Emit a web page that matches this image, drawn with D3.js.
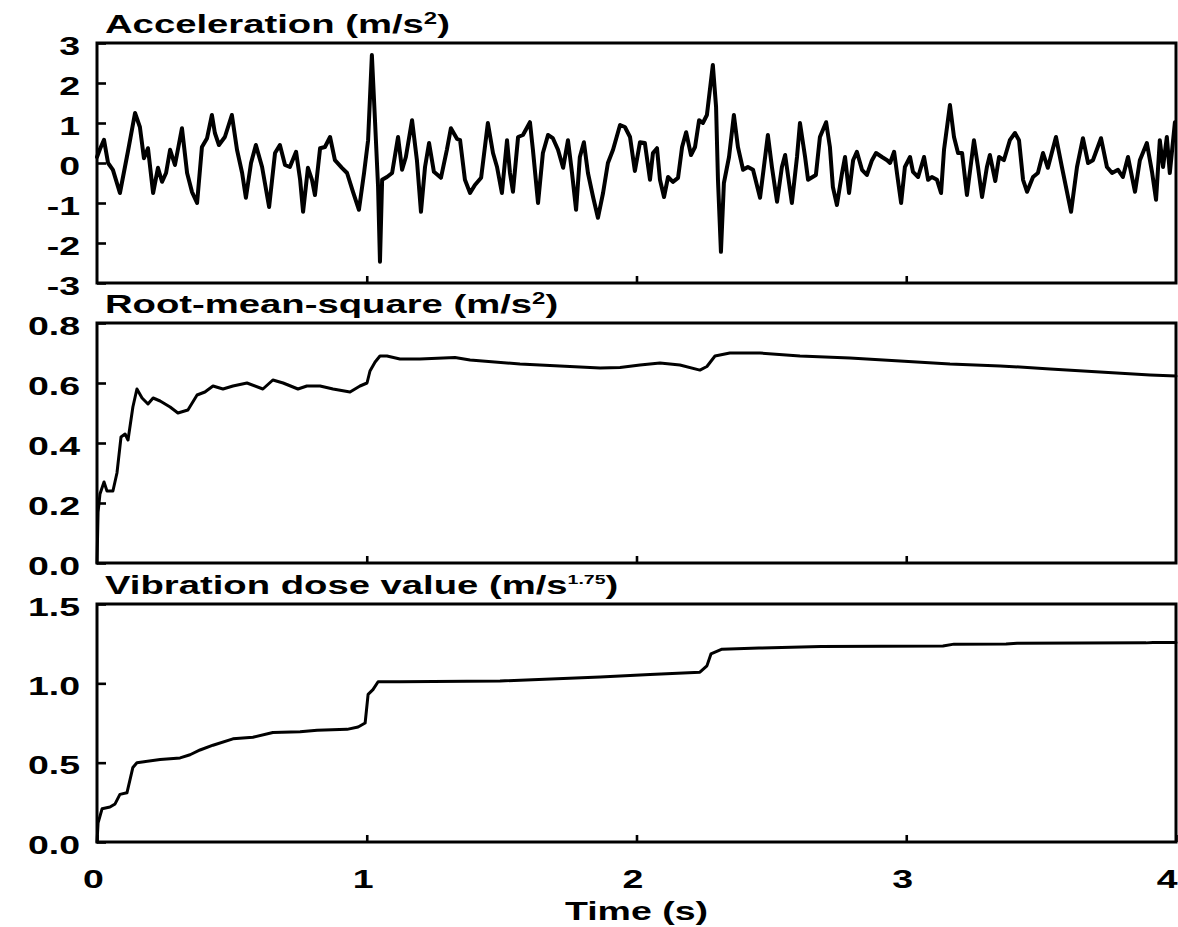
<!DOCTYPE html>
<html>
<head>
<meta charset="utf-8">
<script src="https://cdn.jsdelivr.net/npm/d3@7"></script>
<style>
  html, body { margin: 0; padding: 0; background: #fff; }
  svg { display: block; }
  text { font-family: "Liberation Sans", Arial, Helvetica, sans-serif; font-weight: bold; fill: #000; }
</style>
</head>
<body>
<svg id="chart" width="1178" height="927"></svg>
<script>
// ---- data -------------------------------------------------------------
const timeTicks = [0, 1, 2, 3, 4];
const accTicks = [-3, -2, -1, 0, 1, 2, 3];
const rmsTicks = [0.0, 0.2, 0.4, 0.6, 0.8];
const vdvTicks = [0.0, 0.5, 1.0, 1.5];

// acceleration signal (s, m/s²)
const accTime = [0, 0.011, 0.026, 0.041, 0.059, 0.085, 0.115, 0.141, 0.159, 0.174, 0.189, 0.208, 0.226, 0.241, 0.256, 0.271, 0.289, 0.315, 0.334, 0.352, 0.371, 0.389, 0.408, 0.426, 0.437, 0.452, 0.474, 0.500, 0.519, 0.538, 0.552, 0.571, 0.589, 0.612, 0.638, 0.660, 0.678, 0.697, 0.715, 0.738, 0.753, 0.764, 0.782, 0.797, 0.808, 0.827, 0.845, 0.864, 0.882, 0.908, 0.927, 0.949, 0.971, 0.990, 1.005, 1.019, 1.031, 1.042, 1.049, 1.057, 1.075, 1.094, 1.116, 1.131, 1.145, 1.168, 1.186, 1.201, 1.216, 1.231, 1.249, 1.275, 1.297, 1.312, 1.335, 1.346, 1.364, 1.383, 1.401, 1.424, 1.449, 1.468, 1.483, 1.501, 1.520, 1.531, 1.542, 1.561, 1.579, 1.605, 1.616, 1.635, 1.653, 1.672, 1.690, 1.709, 1.728, 1.746, 1.761, 1.776, 1.790, 1.805, 1.820, 1.839, 1.857, 1.876, 1.894, 1.913, 1.939, 1.957, 1.976, 1.994, 2.013, 2.031, 2.050, 2.061, 2.076, 2.087, 2.102, 2.117, 2.135, 2.154, 2.169, 2.184, 2.202, 2.217, 2.232, 2.246, 2.261, 2.283, 2.295, 2.302, 2.313, 2.324, 2.343, 2.361, 2.376, 2.395, 2.413, 2.432, 2.458, 2.487, 2.502, 2.521, 2.539, 2.551, 2.576, 2.595, 2.606, 2.625, 2.636, 2.665, 2.680, 2.703, 2.717, 2.728, 2.743, 2.762, 2.773, 2.788, 2.803, 2.817, 2.836, 2.854, 2.873, 2.888, 2.910, 2.929, 2.940, 2.955, 2.969, 2.981, 2.995, 3.014, 3.025, 3.044, 3.066, 3.081, 3.095, 3.114, 3.129, 3.140, 3.162, 3.177, 3.192, 3.207, 3.225, 3.251, 3.266, 3.281, 3.299, 3.310, 3.330, 3.344, 3.362, 3.384, 3.403, 3.418, 3.433, 3.448, 3.470, 3.488, 3.507, 3.525, 3.555, 3.577, 3.611, 3.633, 3.655, 3.674, 3.692, 3.722, 3.744, 3.763, 3.785, 3.803, 3.822, 3.848, 3.866, 3.892, 3.911, 3.926, 3.940, 3.952, 3.966, 3.977, 3.996];
const accValue = [0.15, 0.35, 0.58, 0.0, -0.17, -0.75, 0.3, 1.25, 0.9, 0.12, 0.37, -0.75, -0.12, -0.47, -0.25, 0.33, -0.05, 0.87, -0.25, -0.72, -1.0, 0.4, 0.62, 1.2, 0.75, 0.45, 0.65, 1.2, 0.33, -0.25, -0.87, 0.0, 0.45, -0.1, -1.1, 0.25, 0.45, -0.05, -0.1, 0.28, -0.42, -1.22, -0.12, -0.42, -0.8, 0.37, 0.4, 0.65, 0.07, -0.12, -0.25, -0.72, -1.17, -0.25, 0.57, 2.7, 1.0, -0.6, -2.47, -0.42, -0.35, -0.25, 0.65, -0.17, 0.15, 1.07, 0.07, -1.22, -0.1, 0.5, -0.22, -0.37, 0.33, 0.87, 0.6, 0.57, -0.42, -0.75, -0.55, -0.37, 1.0, 0.25, -0.1, -0.75, 0.57, -0.25, -0.72, 0.65, 0.7, 1.02, 0.33, -1.0, 0.25, 0.7, 0.62, 0.33, -0.12, 0.57, -0.25, -1.17, 0.15, 0.52, -0.25, -0.85, -1.37, -0.75, 0.0, 0.33, 0.95, 0.9, 0.65, -0.2, 0.52, 0.5, -0.42, 0.25, 0.37, -0.42, -0.85, -0.35, -0.47, -0.37, 0.4, 0.77, 0.2, 0.4, 1.07, 1.0, 1.2, 2.45, 1.4, -0.42, -2.22, -0.5, 0.15, 1.2, 0.4, -0.17, -0.1, -0.17, -0.87, 0.7, -0.1, -0.97, -0.1, 0.2, -1.0, 0.15, 1.0, 0.15, -0.42, -0.3, 0.65, 1.02, 0.4, -0.6, -1.05, -0.25, 0.15, -0.75, 0.07, 0.28, -0.17, -0.3, 0.07, 0.25, 0.15, 0.07, 0.0, 0.28, -0.42, -1.0, -0.1, 0.15, -0.22, -0.35, 0.15, -0.42, -0.35, -0.42, -0.75, 0.33, 1.45, 0.65, 0.25, 0.25, -0.8, 0.57, -0.1, -0.85, -0.1, 0.2, -0.45, 0.15, 0.07, 0.57, 0.75, 0.57, -0.42, -0.72, -0.35, -0.25, 0.25, -0.12, 0.65, -0.1, -1.22, -0.1, 0.62, 0.0, 0.07, 0.62, -0.1, -0.25, -0.17, -0.35, 0.15, -0.72, 0.07, 0.5, -0.22, -0.92, 0.57, -0.1, 0.65, -0.25, 1.02];

// running root-mean-square (s, m/s²)
const rmsTime = [0, 0.004, 0.011, 0.026, 0.037, 0.059, 0.074, 0.089, 0.104, 0.115, 0.133, 0.148, 0.167, 0.189, 0.208, 0.234, 0.271, 0.300, 0.337, 0.371, 0.400, 0.430, 0.467, 0.504, 0.556, 0.615, 0.652, 0.690, 0.745, 0.778, 0.827, 0.875, 0.938, 0.975, 1.001, 1.012, 1.031, 1.049, 1.075, 1.123, 1.197, 1.327, 1.383, 1.568, 1.716, 1.865, 1.939, 2.013, 2.087, 2.161, 2.235, 2.261, 2.291, 2.346, 2.458, 2.606, 2.791, 2.977, 3.162, 3.348, 3.533, 3.718, 3.904, 4.0];
const rmsValue = [0.0, 0.17, 0.23, 0.27, 0.24, 0.24, 0.30, 0.42, 0.43, 0.41, 0.52, 0.58, 0.55, 0.53, 0.55, 0.54, 0.52, 0.50, 0.51, 0.56, 0.57, 0.59, 0.58, 0.59, 0.60, 0.58, 0.61, 0.60, 0.58, 0.59, 0.59, 0.58, 0.57, 0.59, 0.60, 0.64, 0.67, 0.69, 0.69, 0.68, 0.68, 0.685, 0.677, 0.663, 0.657, 0.65, 0.652, 0.66, 0.667, 0.66, 0.643, 0.655, 0.69, 0.70, 0.70, 0.69, 0.683, 0.673, 0.663, 0.657, 0.647, 0.637, 0.627, 0.623];

// running vibration dose value (s, m/s^1.75)
const vdvTime = [0, 0.004, 0.019, 0.048, 0.067, 0.085, 0.111, 0.122, 0.133, 0.148, 0.234, 0.308, 0.345, 0.382, 0.430, 0.504, 0.578, 0.652, 0.753, 0.816, 0.927, 0.968, 0.994, 1.005, 1.023, 1.042, 1.123, 1.494, 1.865, 2.050, 2.235, 2.261, 2.276, 2.317, 2.454, 2.684, 3.136, 3.177, 3.370, 3.411, 3.889, 3.915, 4.0];
const vdvValue = [0.0, 0.12, 0.21, 0.22, 0.24, 0.30, 0.31, 0.39, 0.47, 0.50, 0.52, 0.53, 0.55, 0.58, 0.61, 0.65, 0.66, 0.69, 0.695, 0.705, 0.71, 0.725, 0.75, 0.93, 0.96, 1.01, 1.01, 1.015, 1.04, 1.055, 1.07, 1.11, 1.185, 1.215, 1.222, 1.232, 1.235, 1.247, 1.248, 1.253, 1.255, 1.258, 1.258];

// ---- layout -----------------------------------------------------------
const svg = d3.select("#chart");
const plotLeft = 97, plotRight = 1176;
const stretch = 1.5;   // wide lettering

const x = d3.scaleLinear().domain([0, 4]).range([plotLeft, plotRight]);

const panels = [
  { title: [["Acceleration (m/s", 0], ["2", 1], [")", 0]], time: accTime, values: accValue,
    domain: [-3, 3], ticks: accTicks, fmt: d => String(d), top: 43, bottom: 283, titleY: 33, lw: 4 },
  { title: [["Root-mean-square (m/s", 0], ["2", 1], [")", 0]], time: rmsTime, values: rmsValue,
    domain: [0, 0.8], ticks: rmsTicks, fmt: d => d.toFixed(1), top: 323, bottom: 563, titleY: 313, lw: 3 },
  { title: [["Vibration dose value (m/s", 0], ["1.75", 2], [")", 0]], time: vdvTime, values: vdvValue,
    domain: [0, 1.5], ticks: vdvTicks, fmt: d => d.toFixed(1), top: 604, bottom: 842, titleY: 594, lw: 3 }
];

function wideText(parent, tx, ty, anchor, size) {
  return parent.append("text")
    .attr("transform", `translate(${tx},${ty}) scale(${stretch},1)`)
    .attr("text-anchor", anchor)
    .attr("font-size", size);
}

panels.forEach((p, i) => {
  const y = d3.scaleLinear().domain(p.domain).range([p.bottom, p.top]);
  const g = svg.append("g");

  // title with superscript
  const t = wideText(g, 105, p.titleY, "start", 25.5);
  p.title.forEach(([s, sup]) => {
    const ts = t.append("tspan").text(s);
    if (sup === 1) ts.attr("font-size", 16).attr("dy", -9);
    else if (sup === 2) ts.attr("font-size", 13).attr("dy", -10);
    else if (s === ")") ts.attr("dy", p.title[1][1] === 1 ? 9 : 10);
  });

  // left axis: inward ticks, stretched labels
  const ya = g.append("g").attr("transform", `translate(${plotLeft},0)`)
    .call(d3.axisLeft(y).tickValues(p.ticks).tickSize(-9).tickFormat(p.fmt));
  ya.select(".domain").remove();
  ya.selectAll(".tick line").attr("stroke", "#000").attr("stroke-width", 2.6);
  ya.selectAll(".tick text")
    .attr("x", null).attr("dy", null)
    .attr("text-anchor", "end")
    .attr("font-size", 25)
    .attr("font-family", null)
    .attr("fill", "#000")
    .attr("transform", `translate(-17,11) scale(${stretch},1)`);

  // bottom axis: inward ticks; labels only under the last panel
  const last = i === panels.length - 1;
  const xa = g.append("g").attr("transform", `translate(0,${p.bottom})`)
    .call(d3.axisBottom(x).tickValues(last ? timeTicks : [1, 2, 3]).tickSize(-7)
      .tickFormat(last ? d3.format("d") : ""));
  xa.select(".domain").remove();
  xa.selectAll(".tick line").attr("stroke", "#000").attr("stroke-width", 2.6);
  xa.selectAll(".tick text")
    .attr("y", null).attr("dy", null)
    .attr("font-size", 25)
    .attr("font-family", null)
    .attr("fill", "#000")
    .attr("text-anchor", d => d === 4 ? "end" : "middle")
    .attr("transform", d => `translate(${d === 4 ? 1 : -4},46) scale(${stretch},1)`);

  // data trace
  const line = d3.line()
    .x((d, k) => x(p.time[k]))
    .y(d => y(d));
  g.append("path")
    .datum(p.values)
    .attr("d", line)
    .attr("fill", "none")
    .attr("stroke", "#000")
    .attr("stroke-width", p.lw)
    .attr("stroke-linejoin", "round")
    .attr("stroke-linecap", "round");

  // frame
  g.append("rect")
    .attr("x", plotLeft).attr("y", p.top)
    .attr("width", plotRight - plotLeft).attr("height", p.bottom - p.top)
    .attr("fill", "none").attr("stroke", "#000").attr("stroke-width", 3);
});

// x-axis title
wideText(svg, (plotLeft + plotRight) / 2, 920, "middle", 25).text("Time (s)");
</script>
</body>
</html>
